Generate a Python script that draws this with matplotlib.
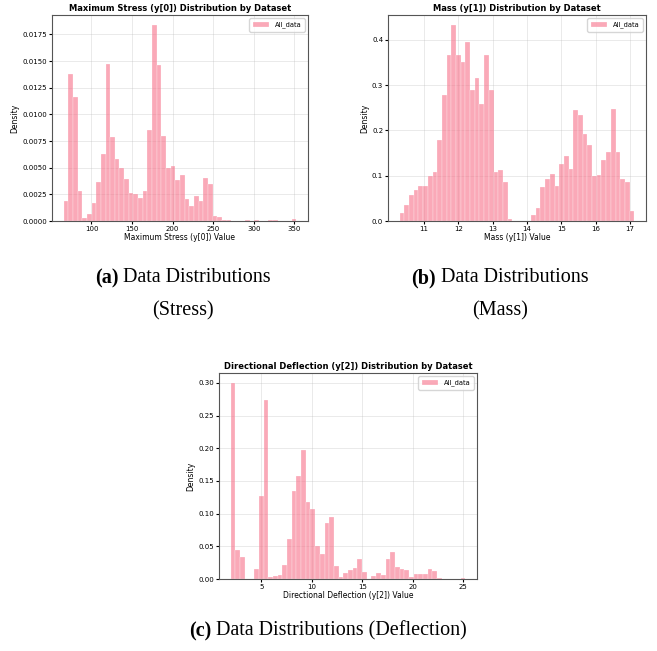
import numpy as np
import matplotlib.pyplot as plt

# histogram bin ranges (50 bins each) and density heights
stress_range = (65.7, 352.4)
stress_density = [0.0019, 0.0138, 0.0116, 0.0028, 0.0003, 0.0007, 0.0017, 0.0037, 0.0063, 0.0147,
                  0.0079, 0.0058, 0.0050, 0.0039, 0.0026, 0.0025, 0.0022, 0.0028, 0.0085, 0.0184,
                  0.0146, 0.0080, 0.0050, 0.0052, 0.0038, 0.0043, 0.0021, 0.0014, 0.0023, 0.0019,
                  0.0040, 0.0035, 0.0005, 0.0004, 0.0001, 0.0001, 0.0, 0.0, 0.0, 0.0001,
                  0.0, 0.0001, 0.0, 0.0, 0.0001, 0.0001, 0.0, 0.0, 0.0, 0.0002]

mass_range = (10.29, 17.13)
mass_density = [0.017, 0.035, 0.057, 0.069, 0.077, 0.077, 0.099, 0.109, 0.178, 0.279,
                0.366, 0.433, 0.366, 0.352, 0.394, 0.290, 0.315, 0.258, 0.366, 0.290,
                0.109, 0.113, 0.087, 0.005, 0.0, 0.0, 0.0, 0.0, 0.014, 0.029,
                0.075, 0.092, 0.103, 0.078, 0.125, 0.144, 0.114, 0.244, 0.235, 0.193,
                0.168, 0.099, 0.102, 0.134, 0.153, 0.247, 0.153, 0.093, 0.085, 0.023]

defl_range = (1.97, 25.2)
defl_density = [0.300, 0.045, 0.033, 0.0, 0.0, 0.016, 0.127, 0.274, 0.003, 0.005,
                0.006, 0.021, 0.061, 0.134, 0.157, 0.197, 0.117, 0.107, 0.050, 0.038,
                0.085, 0.095, 0.020, 0.003, 0.009, 0.014, 0.017, 0.031, 0.011, 0.0,
                0.004, 0.009, 0.006, 0.030, 0.042, 0.018, 0.016, 0.013, 0.003, 0.008,
                0.008, 0.007, 0.016, 0.012, 0.002, 0.0, 0.0, 0.0, 0.0, 0.001]

titles = ['Maximum Stress (y[0]) Distribution by Dataset',
          'Mass (y[1]) Distribution by Dataset',
          'Directional Deflection (y[2]) Distribution by Dataset']
xlabels = ['Maximum Stress (y[0]) Value', 'Mass (y[1]) Value', 'Directional Deflection (y[2]) Value']
captions = [('(a)', ' Data Distributions\n(Stress)'),
            ('(b)', ' Data Distributions\n(Mass)'),
            ('(c)', ' Data Distributions (Deflection)')]

W, H = 657, 651
fig = plt.figure(figsize=(W / 100, H / 100), dpi=100)

# axes boxes in pixels: left, top, right, bottom
boxes = [(52, 15, 308, 221), (388, 15, 646, 221), (219, 373, 477, 579)]
xticks = [[100, 150, 200, 250, 300, 350], [11, 12, 13, 14, 15, 16, 17], [5, 10, 15, 20, 25]]

data = [(stress_range, stress_density), (mass_range, mass_density), (defl_range, defl_density)]

for i, ((lo, hi), dens) in enumerate(data):
    l, t, r, b = boxes[i]
    ax = fig.add_axes([l / W, 1 - b / H, (r - l) / W, (b - t) / H])
    edges = np.linspace(lo, hi, len(dens) + 1)
    centers = (edges[:-1] + edges[1:]) / 2
    ax.hist(centers, bins=edges, weights=dens, color='#f77189', alpha=0.6,
            edgecolor='white', linewidth=0.3, label='All_data')
    ax.set_xticks(xticks[i])
    ax.set_title(titles[i], fontsize=6, fontweight='bold', pad=3)
    ax.set_xlabel(xlabels[i], fontsize=5.5, labelpad=1)
    ax.set_ylabel('Density', fontsize=5.5, labelpad=2)
    ax.tick_params(labelsize=5, length=2, pad=1.5)
    ax.grid(True, alpha=0.3, linewidth=0.6)
    ax.set_axisbelow(True)
    for s in ax.spines.values():
        s.set_color('#555555')
        s.set_linewidth(0.8)
    ax.legend(fontsize=4.8, loc='upper right', framealpha=0.8, borderpad=0.5, handlelength=2.5)

# sub-figure captions
cap_pos = [(183, 278), (500, 278), (328, 631)]
for (x, y), (tag, rest) in zip(cap_pos, captions):
    lines = rest.split('\n')
    t1 = fig.text(0, 0, tag, fontsize=14.5, family='Liberation Serif', fontweight='bold')
    t2 = fig.text(0, 0, lines[0], fontsize=14.5, family='Liberation Serif')
    fig.canvas.draw()
    r = fig.canvas.get_renderer()
    w1 = t1.get_window_extent(r).width
    w2 = t2.get_window_extent(r).width
    x0 = x - (w1 + w2) / 2
    t1.set_position((x0 / W, 1 - y / H))
    t2.set_position(((x0 + w1) / W, 1 - y / H))
    t1.set_va('center')
    t2.set_va('center')
    if len(lines) > 1:
        fig.text(x / W, 1 - (y + 33) / H, lines[1], fontsize=14.5, family='Liberation Serif',
                 ha='center', va='center')

fig.savefig('out.png', dpi=100)
